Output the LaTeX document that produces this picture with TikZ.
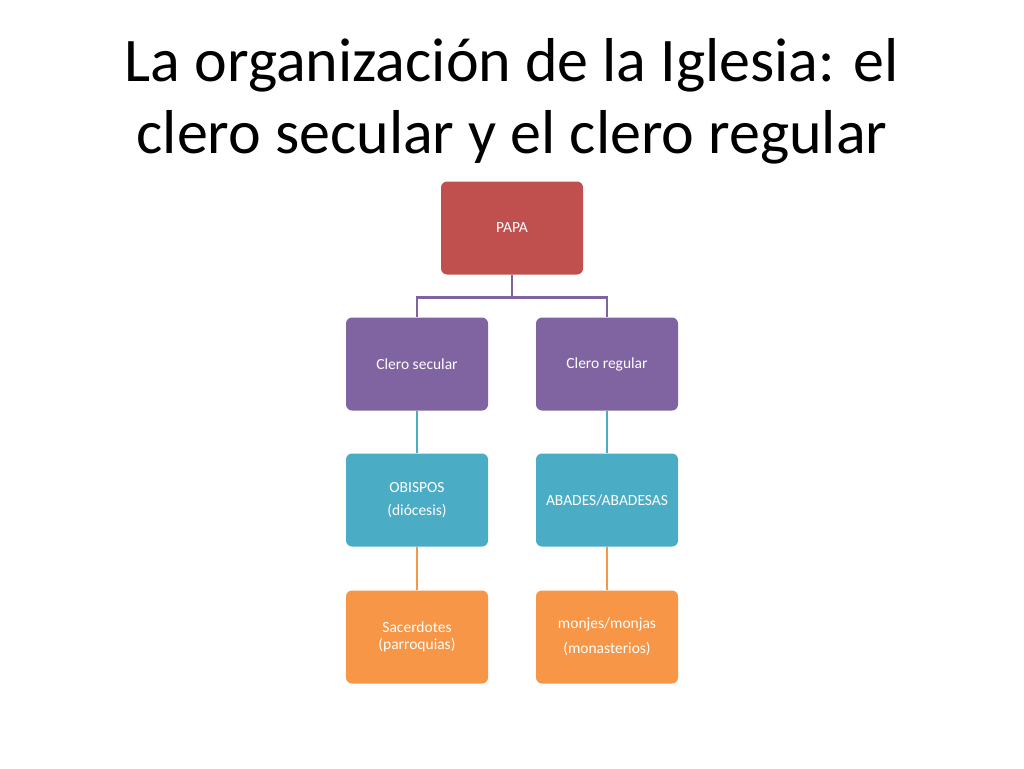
\documentclass[tikz,border=0pt]{standalone}
\usepackage{fontspec}
\setmainfont{Carlito}
\definecolor{cred}{HTML}{C0504D}
\definecolor{cpur}{HTML}{8064A2}
\definecolor{ccya}{HTML}{4BACC6}
\definecolor{cora}{HTML}{F79646}
\begin{document}
\begin{tikzpicture}[x=1pt,y=-1pt,
  box/.style={rounded corners=6pt,minimum width=142pt,minimum height=93pt,text=white,font=\fontsize{15.5}{18}\selectfont,align=center,inner sep=2pt},
  conn/.style={line width=2.5pt}]
\useasboundingbox[fill=white] (0,0) rectangle (1024,768);
\node[font=\fontsize{62}{72}\selectfont,align=center] (title) at (512,101) {La organización de la Iglesia: el\\clero secular y el clero regular};
\node[box,fill=cred] (papa) at (512,228) {PAPA};
\node[box,fill=cpur] (cs) at (417,364) {Clero secular};
\node[box,fill=cpur] (cr) at (607,364) {Clero regular};
\node[box,fill=ccya,font=\fontsize{15.5}{23}\selectfont] (ob) at (417,500) {OBISPOS\\(diócesis)};
\node[box,fill=ccya] (ab) at (607,500) {ABADES/ABADESAS};
\node[box,fill=cora,font=\fontsize{15.5}{17}\selectfont] (sa) at (417,637) {Sacerdotes\\(parroquias)};
\node[box,fill=cora,font=\fontsize{15.5}{25}\selectfont] (mo) at (607,637) {monjes/monjas\\(monasterios)};
\draw[conn,cpur] (papa.south) -- ++(0,23) -| (cs.north);
\draw[conn,cpur] (papa.south) ++(0,23) -| (cr.north);
\draw[conn,ccya] (cs.south) -- (ob.north);
\draw[conn,ccya] (cr.south) -- (ab.north);
\draw[conn,cora] (ob.south) -- (sa.north);
\draw[conn,cora] (ab.south) -- (mo.north);
\end{tikzpicture}
\end{document}
